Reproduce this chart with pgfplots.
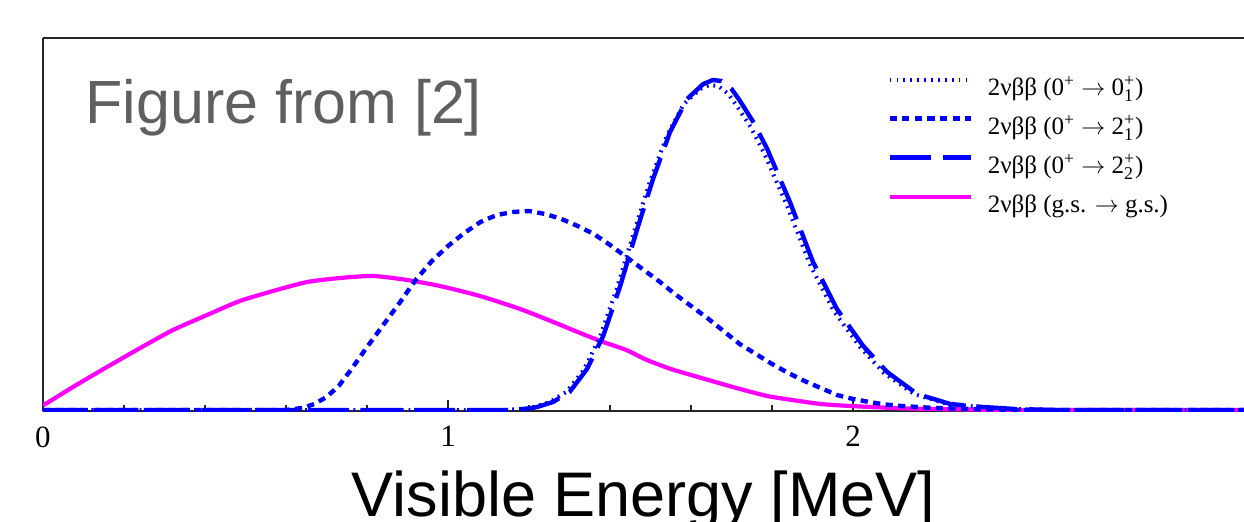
\documentclass[border=0pt]{standalone}
\usepackage{fontspec}
\setmainfont{Liberation Serif}
\newfontfamily\sansf{Liberation Sans}
\usepackage{pgfplots}
\pgfplotsset{compat=1.18}
\definecolor{figgray}{RGB}{95,95,95}
\definecolor{myblue}{RGB}{0,0,255}
\definecolor{mymag}{RGB}{255,0,255}
\newcommand{\smalltxt}[1]{\mbox{\fontsize{9}{9}\selectfont #1}}
\newcommand{\stt}[2]{#1$^{\smalltxt{+}}_{\smalltxt{#2}}$}

\pgfplotstableread{
x y
0.000 5
0.010 7
0.074 23
0.158 43
0.240 62
0.321 80
0.405 95
0.486 109
0.568 119
0.652 128
0.733 132
0.815 134
0.899 130
0.980 124
1.079 114
1.178 101
1.260 88
1.326 77
1.383 68
1.440 60
1.491 50
1.550 41
1.600 35
1.660 28
1.721 21
1.788 14
1.850 10
1.920 6
1.993 4
2.100 2
2.198 1
2.300 0.5
2.400 0
2.970 0
}\gsdata

\pgfplotstableread{
x y
0.000 0
1.142 0
1.192 1.5
1.212 3
1.251 8
1.292 18
1.335 40
1.375 73
1.417 122
1.459 178
1.498 228
1.540 274
1.582 306
1.622 321
1.646 325
1.667 324
1.692 316
1.713 304
1.747 283
1.780 257
1.836 205
1.893 146
1.952 99
2.017 63
2.076 37
2.150 16
2.232 6
2.312 3
2.392 1
2.490 0
2.970 0
}\zerodata

\pgfplotstableread{
x y
0.000 0
0.600 0
0.640 2
0.670 6
0.700 13
0.730 24
0.760 40
0.800 63
0.840 85
0.880 107
0.920 130
0.960 149
1.000 164
1.040 177
1.080 188
1.120 195
1.160 198
1.200 199
1.240 196
1.280 191
1.320 184
1.360 176
1.400 165
1.440 153
1.480 141
1.520 129
1.560 116
1.600 104
1.640 92
1.680 79
1.720 66
1.760 56
1.800 46
1.840 37
1.880 29
1.920 22
1.960 15
2.000 11
2.040 8
2.080 5.5
2.120 4
2.160 3
2.200 2
2.300 1
2.400 0
2.970 0
}\twoonedata

\pgfplotstableread{
x y
0.000 0
1.150 0
1.200 1.5
1.220 3
1.259 8
1.300 18
1.343 41
1.383 74
1.425 124
1.467 181
1.506 231
1.548 278
1.590 311
1.630 326
1.654 330
1.675 329
1.700 321
1.721 309
1.755 287
1.788 261
1.844 208
1.901 148
1.960 101
2.025 64
2.084 38
2.158 16
2.240 6
2.320 3
2.400 1
2.500 0
2.970 0
}\twotwodata

\begin{document}
\begin{tikzpicture}
\begin{axis}[
  scale only axis, width=600.5pt, height=186.5pt,
  xmin=0, xmax=2.965, ymin=-1, ymax=372,
  axis x line*=box, axis y line*=left,
  axis line style={black!85, line width=1pt},
  xtick={0,1,2}, minor x tick num=4, ytick=\empty,
  xtick pos=left, tick align=inside,
  major tick length=5.5pt, minor tick length=3pt,
  every tick/.style={black!85, line width=0.8pt},
  /pgf/number format/assume math mode=true,
  xticklabel style={font=\fontsize{15.5}{18}\selectfont, inner sep=0pt, yshift=-7.5pt},
  xlabel={Visible Energy [MeV]},
  xlabel style={at={(axis description cs:0.5,0)}, anchor=base, yshift=-52.5pt, inner sep=0pt, font=\sansf\fontsize{31.5}{36}\selectfont},
  legend image code/.code={\draw[#1] (0pt,5pt) -- (40.5pt,5pt); \path (48pt,5pt);},
  legend style={draw=none, fill=none, at={(0.7028,0.899)}, anchor=north west,
    font=\fontsize{12.5}{15}\selectfont, inner sep=0pt, row sep=6.0pt,
    nodes={inner sep=0pt, text height=9.5pt, text depth=4pt}},
  legend cell align=left,
]
\addplot[mymag, line width=2.1pt, smooth, tension=0.4, forget plot] table {\gsdata};
\addplot[myblue, line width=2pt, dash pattern=on 0.9pt off 2.55pt] table {\zerodata};
\addlegendentry{2νββ (0\textsuperscript{+} $\rightarrow$ \stt{0}{1})}
\addplot[myblue, line width=2.2pt, dash pattern=on 3.6pt off 2.7pt] table {\twoonedata};
\addlegendentry{2νββ (0\textsuperscript{+} $\rightarrow$ \stt{2}{1})}
\addplot[myblue, line width=2.2pt, dash pattern=on 20.5pt off 6pt] table {\twotwodata};
\addlegendentry{2νββ (0\textsuperscript{+} $\rightarrow$ \stt{2}{2})}
\addlegendimage{mymag, line width=2pt}
\addlegendentry{2νββ (g.s. $\rightarrow$ g.s.)}
\node[anchor=base west, inner sep=0pt, xshift=21pt, yshift=-42.5pt, text=figgray, font=\sansf\fontsize{30.5}{36}\selectfont] at (rel axis cs:0,1) {Figure from [2]};
\end{axis}
\pgfresetboundingbox
\path ([xshift=-21.5pt,yshift=-55pt]current axis.south west) rectangle ([yshift=19pt]current axis.north east);
\end{tikzpicture}
\end{document}
